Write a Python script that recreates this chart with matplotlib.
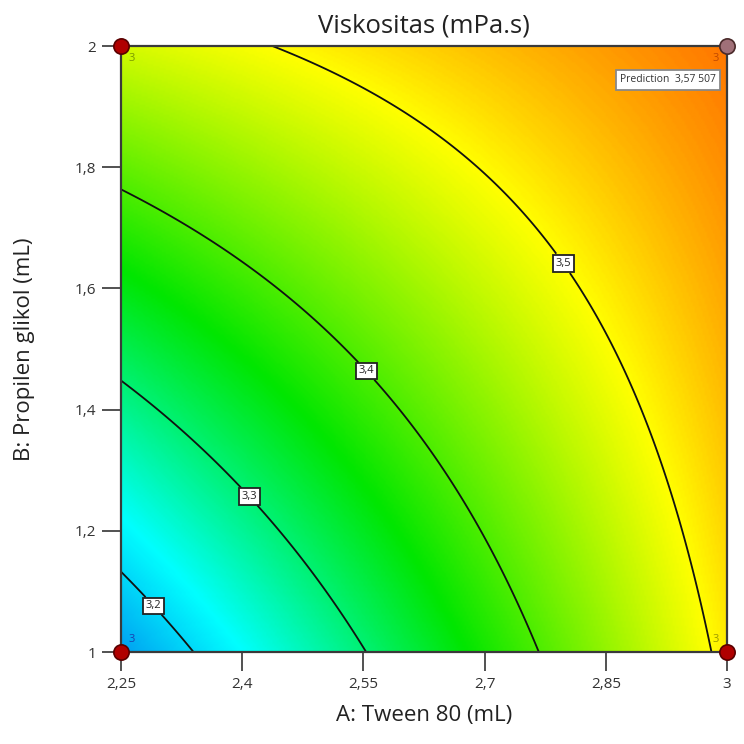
import matplotlib
matplotlib.use("Agg")
import matplotlib.pyplot as plt
import numpy as np
from matplotlib.colors import LinearSegmentedColormap

plt.rcParams["font.family"] = ["Open Sans", "DejaVu Sans"]

# design points (2^2 factorial, 3 replicates each) and predicted viscosity
tween = [2.25, 3.0, 2.25, 3.0]
propilen = [1.0, 1.0, 2.0, 2.0]
viskositas = [3.158, 3.509, 3.475, 3.57507]
replicates = [3, 3, 3, 3]

contour_levels = [3.2, 3.3, 3.4, 3.5]
label_spots = [(2.296, 1.083), (2.415, 1.264), (2.558, 1.469), (2.801, 1.645)]

x_ticks = [2.25, 2.4, 2.55, 2.7, 2.85, 3.0]
x_ticklabels = ["2,25", "2,4", "2,55", "2,7", "2,85", "3"]
y_ticks = [1.0, 1.2, 1.4, 1.6, 1.8, 2.0]
y_ticklabels = ["1", "1,2", "1,4", "1,6", "1,8", "2"]


def coded(a, b):
    return (np.asarray(a) - 2.625) / 0.375, (np.asarray(b) - 1.5) / 0.5


# fit the factorial model y = b0 + b1*A + b2*B + b12*AB in coded units
x1, x2 = coded(tween, propilen)
X = np.column_stack([np.ones(4), x1, x2, x1 * x2])
coef = np.linalg.lstsq(X, np.array(viskositas), rcond=None)[0]

A, B = np.meshgrid(np.linspace(2.25, 3.0, 300), np.linspace(1.0, 2.0, 300))
g1, g2 = coded(A, B)
Z = coef[0] + coef[1] * g1 + coef[2] * g2 + coef[3] * g1 * g2

cmap = LinearSegmentedColormap.from_list(
    "dx", [(0, "#0030e0"), (0.27, "#00ffff"), (0.5, "#00e600"),
           (0.75, "#ffff00"), (1, "#ff0000")])

fig = plt.figure(figsize=(7.44, 7.44), dpi=100)
ax = fig.add_axes([121 / 744, 92 / 744, 606 / 744, 606 / 744])

ax.imshow(Z, origin="lower", extent=(2.25, 3.0, 1.0, 2.0), aspect="auto",
          cmap=cmap, vmin=3.074, vmax=3.642, interpolation="bilinear")
cs = ax.contour(A, B, Z, levels=contour_levels, colors="#111111", linewidths=1.3)
labels = ax.clabel(cs, fmt=lambda v: f"{v:.1f}".replace(".", ","), manual=label_spots,
                   inline=True, inline_spacing=4, fontsize=8, colors="#222222")
for t in labels:
    t.set_rotation(0)
    t.set_zorder(5)
    t.set_bbox(dict(boxstyle="square,pad=0.25", fc="white", ec="#222222", lw=1.3))

# design points
ax.plot(tween[:3], propilen[:3], "o", ms=11, mfc="#b00000", mec="#5a0000",
        mew=1.2, clip_on=False, zorder=10)
ax.plot(tween[3], propilen[3], "o", ms=11, mfc="#a07078", mec="#4a2a2a",
        mew=1.2, clip_on=False, zorder=10)

rep_colors = ["#1a40b0", "#9a9a00", "#7a9a00", "#c04800"]
rep_pos = [(0.013, 0.012, "left", "bottom"), (0.987, 0.012, "right", "bottom"),
           (0.013, 0.988, "left", "top"), (0.987, 0.988, "right", "top")]
for n, c, (px, py, ha, va) in zip(replicates, rep_colors, rep_pos):
    ax.text(px, py, str(n), transform=ax.transAxes, ha=ha, va=va,
            fontsize=8, color=c, zorder=11)

ax.text(0.823, 0.953, "Prediction  3,57 507", transform=ax.transAxes,
        ha="left", va="top", fontsize=7.5, color="#333333", zorder=11,
        bbox=dict(boxstyle="square,pad=0.4", fc="white", ec="#888888", lw=1.3))

ax.set_xlim(2.25, 3.0)
ax.set_ylim(1.0, 2.0)
ax.set_xticks(x_ticks, x_ticklabels)
ax.set_yticks(y_ticks, y_ticklabels)
ax.tick_params(length=14, width=1.2, color="#333333", labelsize=11,
               labelcolor="#333333", pad=4)
for s in ax.spines.values():
    s.set_color("#3a3a3a")
    s.set_linewidth(1.6)

fig.text(424 / 744, 1 - 26 / 744, "Viskositas (mPa.s)", ha="center", va="center",
         fontsize=18.5, color="#222222")
fig.text(424 / 744, 1 - 716 / 744, "A: Tween 80 (mL)", ha="center", va="center",
         fontsize=16, color="#222222")
fig.text(25 / 744, 1 - 349 / 744, "B: Propilen glikol (mL)", ha="center",
         va="center", rotation=90, fontsize=16, color="#222222")

fig.savefig("out.png", dpi=100)
